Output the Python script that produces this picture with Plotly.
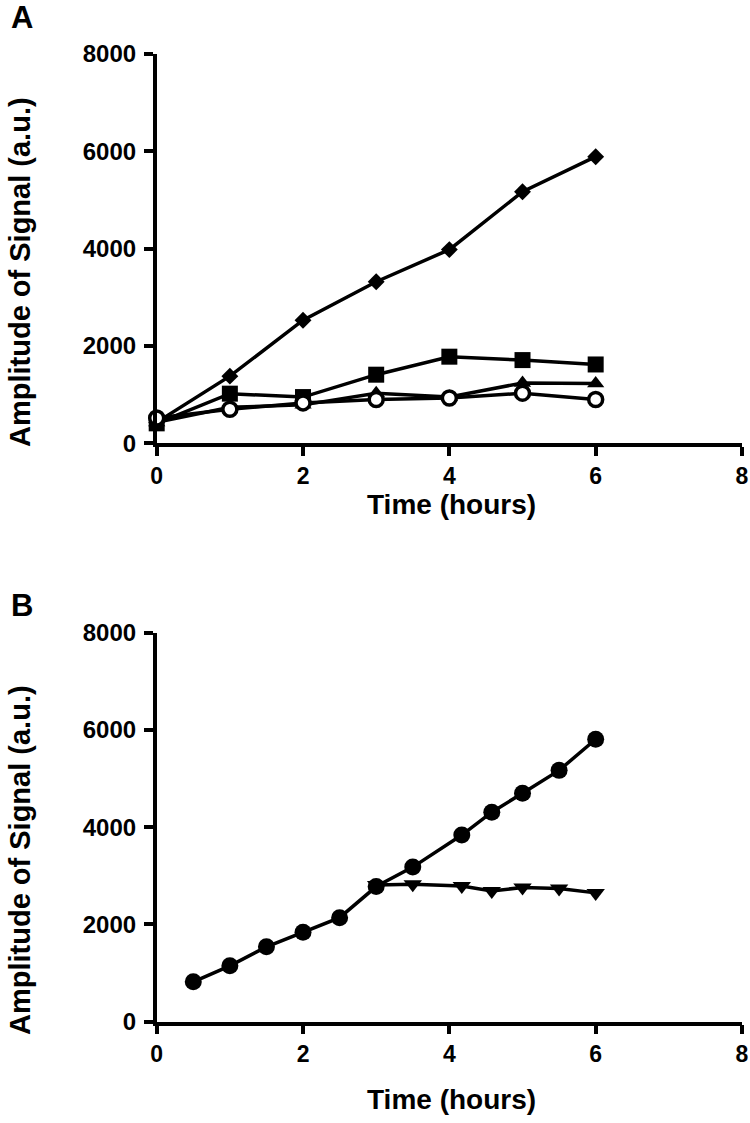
import plotly.graph_objects as go

# ---------------- data ----------------
hours_a = [0, 1, 2, 3, 4, 5, 6]
diamond_a = [430, 1380, 2530, 3320, 3980, 5170, 5890]
square_a = [410, 1020, 950, 1410, 1780, 1710, 1620]
triangle_a = [430, 740, 790, 1030, 950, 1240, 1230]
circle_a = [520, 700, 830, 900, 930, 1030, 900]

hours_b_circle = [0.5, 1, 1.5, 2, 2.5, 3, 3.5, 4.17, 4.58, 5, 5.5, 6]
circle_b = [820, 1150, 1540, 1840, 2140, 2780, 3180, 3840, 4310, 4700, 5170, 5810]
hours_b_tri = [3, 3.5, 4.17, 4.58, 5, 5.5, 6]
tri_down_b = [2810, 2830, 2790, 2690, 2760, 2740, 2650]

x_ticks = [0, 2, 4, 6, 8]
y_ticks = [0, 2000, 4000, 6000, 8000]
x_title = "Time (hours)"
y_title = "Amplitude of Signal (a.u.)"

FONT = "Arial, Liberation Sans, sans-serif"
BLACK = "#000000"

fig = go.Figure()

def add_series(x, y, symbol, size, xa, ya, fill=BLACK):
    fig.add_trace(go.Scatter(
        x=x, y=y, mode="lines+markers",
        line=dict(color=BLACK, width=3.5),
        marker=dict(symbol=symbol, size=size, color=fill,
                    line=dict(color=BLACK, width=3.5 if fill != BLACK else 0)),
        xaxis=xa, yaxis=ya, showlegend=False, cliponaxis=False,
    ))

# Panel A
add_series(hours_a, diamond_a, "diamond", 13, "x", "y")
add_series(hours_a, square_a, "square", 16, "x", "y")
add_series(hours_a, triangle_a, "triangle-up", 15, "x", "y")
add_series(hours_a, circle_a, "circle", 14, "x", "y", fill="#ffffff")

# Panel B
add_series(hours_b_circle, circle_b, "circle", 17, "x2", "y2")
add_series(hours_b_tri, tri_down_b, "triangle-down", 16, "x2", "y2")

W, H = 750, 1123
xdom = [156.7 / W, 742 / W]
ydom_a = [1 - 443.3 / H, 1 - 54 / H]
ydom_b = [1 - 1021.7 / H, 1 - 632.8 / H]

tickfont = dict(family=FONT, size=24, color=BLACK, weight="bold")
xtickfont = dict(family=FONT, size=23, color=BLACK, weight="bold")

def xaxis(anchor):
    return dict(domain=xdom, range=[0, 8], anchor=anchor, tickvals=x_ticks,
                showline=True, linecolor=BLACK, linewidth=3.5, mirror=False,
                ticks="outside", ticklen=9, tickwidth=3.5, tickcolor=BLACK,
                showgrid=False, zeroline=False, tickfont=xtickfont,
                automargin=False)

def yaxis(anchor, dom):
    return dict(domain=dom, range=[0, 8000], anchor=anchor, tickvals=y_ticks,
                showline=True, linecolor=BLACK, linewidth=3.5,
                ticks="outside", ticklen=9, tickwidth=3.5, tickcolor=BLACK,
                showgrid=False, zeroline=False, tickfont=tickfont,
                automargin=False, ticklabelstandoff=3)

ytitlefont = dict(family=FONT, size=29, color=BLACK, weight="bold")
xtitlefont = dict(family=FONT, size=28, color=BLACK, weight="bold")
letterfont = dict(family=FONT, size=31, color=BLACK, weight="bold")

annotations = []
for (ytitle_px, xtitle_px, letter, letter_px) in [(272, 505, "A", 18), (860, 1099, "B", 605)]:
    annotations.append(dict(text=y_title, xref="paper", yref="paper",
                            x=20 / W, y=1 - ytitle_px / H, textangle=-90,
                            showarrow=False, font=ytitlefont,
                            xanchor="center", yanchor="middle"))
    annotations.append(dict(text=x_title, xref="paper", yref="paper",
                            x=451 / W, y=1 - xtitle_px / H,
                            showarrow=False, font=xtitlefont,
                            xanchor="center", yanchor="middle"))
    annotations.append(dict(text=letter, xref="paper", yref="paper",
                            x=22 / W, y=1 - letter_px / H,
                            showarrow=False, font=letterfont,
                            xanchor="center", yanchor="middle"))

fig.update_layout(
    width=W, height=H, autosize=False,
    margin=dict(l=0, r=0, t=0, b=0, autoexpand=False),
    paper_bgcolor="white", plot_bgcolor="white",
    xaxis=xaxis("y"), yaxis=yaxis("x", ydom_a),
    xaxis2=xaxis("y2"), yaxis2=yaxis("x2", ydom_b),
    annotations=annotations,
)

fig.write_html("out.html", config={"displayModeBar": False},
               post_script="document.body.style.margin='0px';")
